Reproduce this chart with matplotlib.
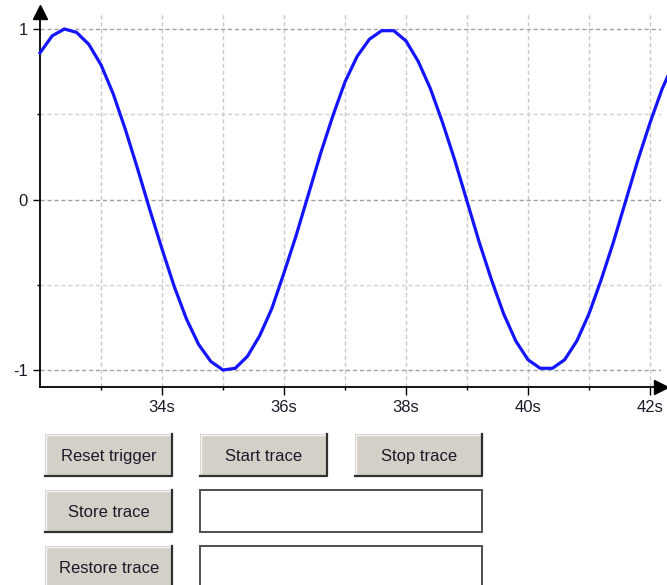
import matplotlib.pyplot as plt
from matplotlib.patches import Rectangle

# trace samples (seconds, value)
time_s = [32.0, 32.2, 32.4, 32.6, 32.8, 33.0, 33.2, 33.4, 33.6, 33.8,
          34.0, 34.2, 34.4, 34.6, 34.8, 35.0, 35.2, 35.4, 35.6, 35.8,
          36.0, 36.2, 36.4, 36.6, 36.8, 37.0, 37.2, 37.4, 37.6, 37.8,
          38.0, 38.2, 38.4, 38.6, 38.8, 39.0, 39.2, 39.4, 39.6, 39.8,
          40.0, 40.2, 40.4, 40.6, 40.8, 41.0, 41.2, 41.4, 41.6, 41.8,
          42.0, 42.2, 42.4]
signal = [0.86, 0.96, 1.00, 0.98, 0.91, 0.79, 0.62, 0.41, 0.18, -0.06,
          -0.29, -0.51, -0.70, -0.85, -0.95, -1.00, -0.99, -0.92, -0.80, -0.64,
          -0.43, -0.21, 0.03, 0.27, 0.49, 0.69, 0.84, 0.94, 0.99, 0.99,
          0.93, 0.81, 0.65, 0.45, 0.23, -0.01, -0.25, -0.47, -0.67, -0.83,
          -0.94, -0.99, -0.99, -0.94, -0.83, -0.67, -0.47, -0.25, -0.01, 0.23,
          0.45, 0.65, 0.81]

x_ticks = [34, 36, 38, 40, 42]
x_labels = ['34s', '36s', '38s', '40s', '42s']
x_minor = [33, 35, 37, 39, 41]
y_ticks = [-1, 0, 1]
y_labels = ['-1', '0', '1']
y_minor = [-0.5, 0.5]

row1 = ['Reset trigger', 'Start trace', 'Stop trace']
left_col = ['Store trace', 'Restore trace']

plt.rcParams['font.family'] = ['Liberation Sans', 'DejaVu Sans']

W, H = 667, 585
fig = plt.figure(figsize=(W / 100, H / 100), dpi=100)


def px(x0, y0, x1, y1):
    return [x0 / W, 1 - y1 / H, (x1 - x0) / W, (y1 - y0) / H]


# widgets layer (pixel coordinates)
ui = fig.add_axes([0, 0, 1, 1])
ui.set_xlim(0, W)
ui.set_ylim(H, 0)
ui.axis('off')


def button(x0, y0, x1, y1, label):
    ui.add_patch(Rectangle((x0, y0), x1 - x0, y1 - y0, fc='#d4d0c8', ec='none'))
    ui.plot([x0 + 0.5, x0 + 0.5, x1], [y1, y0 + 0.5, y0 + 0.5], color='#f4f4f4', lw=1)
    ui.plot([x0, x1 - 1, x1 - 1], [y1 - 1, y1 - 1, y0], color='#303030', lw=1.6)
    ui.text((x0 + x1) / 2, (y0 + y1) / 2 + 1, label, ha='center', va='center',
            fontsize=12, color='#1a1a2a')


def textbox(x0, y0, x1, y1):
    ui.add_patch(Rectangle((x0, y0), x1 - x0, y1 - y0, fc='white', ec='#505050', lw=1.4))


bx = [(45, 173), (200, 328), (355, 483)]
for (x0, x1), lab in zip(bx, row1):
    button(x0, 434, x1, 477, lab)
for i, lab in enumerate(left_col):
    y0 = 490 + i * 56
    button(45, y0, 173, y0 + 43, lab)
    textbox(200, y0, 482, y0 + 42)

# trace plot
ax = fig.add_axes(px(40, 12, 661, 387))
ax.plot(time_s, signal, color='#1414ff', lw=2.3, clip_on=False, zorder=3)
ax.set_xlim(32, 42.18)
ax.set_ylim(-1 - 17 / 170.5, 1 + 17 / 170.5)

ax.set_xticks(x_ticks)
ax.set_xticklabels(x_labels)
ax.set_xticks(x_minor, minor=True)
ax.set_yticks(y_ticks)
ax.set_yticklabels(y_labels)
ax.set_yticks(y_minor, minor=True)
ax.tick_params(axis='both', which='major', direction='out', width=1, color='black',
               labelsize=12, labelcolor='#1a1a2a')
ax.tick_params(axis='x', which='major', length=6, pad=3)
ax.tick_params(axis='x', which='minor', length=2.5, width=1)
ax.tick_params(axis='y', which='major', length=5, pad=4)
ax.tick_params(axis='y', which='minor', length=2.5, width=1)

ax.grid(True, axis='x', which='both', color='#c8c8c8', ls=(0, (3, 2)), lw=1)
ax.grid(True, axis='y', which='major', color='#a0a0a0', ls=(0, (3, 2)), lw=1)
ax.grid(True, axis='y', which='minor', color='#d0d0d0', ls=(0, (3, 2)), lw=1)
ax.set_axisbelow(True)

for s in ['top', 'right']:
    ax.spines[s].set_visible(False)
for s in ['left', 'bottom']:
    ax.spines[s].set_linewidth(1.3)
    ax.spines[s].set_color('black')

# arrow heads on the axes
ax.plot([0], [1], marker='^', ms=10, color='black', transform=ax.transAxes, clip_on=False)
ax.plot([1], [0], marker='>', ms=10, color='black', transform=ax.transAxes, clip_on=False)

fig.savefig('out.png', dpi=100)
